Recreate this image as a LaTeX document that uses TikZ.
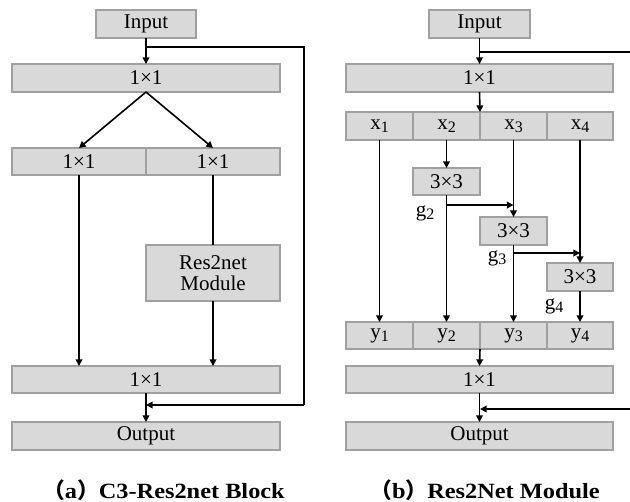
\documentclass[tikz,border=0pt]{standalone}
\usepackage{fontspec}
\setmainfont{Liberation Serif}
\newfontfamily\capfont[FakeStretch=1.12]{Liberation Serif}
\newfontfamily\cjkfont{Noto Sans CJK SC}
\usetikzlibrary{arrows.meta}
\definecolor{boxfill}{RGB}{217,217,217}
\definecolor{boxline}{RGB}{160,160,160}
% x with a lowered index, set in roman
\newcommand\idx[2]{#1\raisebox{-0.35ex}{\fontsize{12}{12}\selectfont #2}}
% box given by its left, top, right and bottom edges (in px)
\newcommand\blk[6]{%
  \node[box, minimum width={(#4-#2)*0.75pt}, minimum height={(#5-#3)*0.75pt}]
    (#1) at ({(#2+#4)/2},{(#3+#5)/2}) {#6};}
\begin{document}
\begin{tikzpicture}[x=0.75pt,y=-0.75pt,
  box/.style={draw=boxline, fill=boxfill, line width=0.8pt, inner sep=0pt, outer sep=0pt,
    font=\fontsize{15.75}{17}\selectfont, align=center},
  flow/.style={line width=1.2pt, -{Triangle[length=5pt,width=5pt]}},
  wire/.style={line width=1.2pt},
  glabel/.style={font=\fontsize{15.75}{17}\selectfont, inner sep=0pt},
  caption/.style={font=\capfont\bfseries\fontsize{16.3}{18}\selectfont, inner sep=0pt}]
\useasboundingbox (0,0) rectangle (630,501);

% ---------- (a) C3-Res2net block ----------
\blk{inA}{96}{10}{196}{38}{Input}
\blk{c1A}{12}{64}{280}{92}{1×1}
\blk{c2aA}{12}{148}{146}{175}{1×1}
\blk{c2bA}{146}{148}{280}{175}{1×1}
\blk{resA}{146}{245}{280}{301}{Res2net\\[-1pt]Module}
\blk{c3A}{12}{366}{280}{393}{1×1}
\blk{outA}{12}{422}{280}{450}{Output}

\draw[flow] (inA.south) -- (c1A.north);
\draw[flow] (c1A.south) -- (c2aA.north);
\draw[flow] (c1A.south) -- (c2bA.north);
\draw[flow] (c2aA.south) -- (c2aA.south |- c3A.north);
\draw[wire] (c2bA.south) -- (resA.north);
\draw[flow] (resA.south) -- (resA.south |- c3A.north);
\draw[flow] (c3A.south) -- (outA.north);

\coordinate (sA1) at (146,47);
\coordinate (sA2) at (304,47);
\coordinate (sA3) at (304,405);
\coordinate (sA4) at (146,405);
\draw[wire] (sA1) -- (sA2) -- (sA3);
\draw[flow] (sA3) -- (sA4);

\node[caption] (capA) at (164,490) {{\cjkfont （}a{\cjkfont ）}C3-Res2net Block};

% ---------- (b) Res2Net module ----------
\blk{inB}{429}{10}{530}{38}{Input}
\blk{c1B}{346}{64}{613}{92}{1×1}
\blk{xa}{346}{112}{413}{140}{\idx{x}{1}}
\blk{xb}{413}{112}{480}{140}{\idx{x}{2}}
\blk{xc}{480}{112}{547}{140}{\idx{x}{3}}
\blk{xd}{547}{112}{613}{140}{\idx{x}{4}}
\blk{ka}{413}{168}{480}{195}{3×3}
\blk{kb}{480}{217}{547}{245}{3×3}
\blk{kc}{547}{263}{613}{291}{3×3}
\blk{ya}{346}{322}{413}{349}{\idx{y}{1}}
\blk{yb}{413}{322}{480}{349}{\idx{y}{2}}
\blk{yc}{480}{322}{547}{349}{\idx{y}{3}}
\blk{yd}{547}{322}{613}{349}{\idx{y}{4}}
\blk{c2B}{346}{366}{613}{393}{1×1}
\blk{outB}{346}{422}{613}{450}{Output}

\coordinate (xtop) at (480,112);
\coordinate (ybot) at (480,349);
\draw[flow] (inB.south) -- (c1B.north);
\draw[flow] (c1B.south) -- (xtop);
\draw[flow] (xa.south) -- (ya.north);
\draw[flow] (xb.south) -- (ka.north);
\draw[flow] (ka.south) -- (yb.north);
\draw[flow] (xc.south) -- (kb.north);
\draw[flow] (kb.south) -- (yc.north);
\draw[flow] (xd.south) -- (kc.north);
\draw[flow] (kc.south) -- (yd.north);
\draw[flow] (ybot) -- (c2B.north);
\draw[flow] (c2B.south) -- (outB.north);

\coordinate (ga) at (446,205);
\coordinate (gb) at (513,253);
\draw[flow] (ga) -- (ga -| kb.north);
\draw[flow] (gb) -- (gb -| kc.north);

\node[glabel] (g2) at (425,213) {\idx{g}{2}};
\node[glabel] (g3) at (497,258) {\idx{g}{3}};
\node[glabel] (g4) at (554,306) {\idx{g}{4}};

\coordinate (sB1) at (630,52);
\coordinate (sB2) at (480,52);
\coordinate (sB3) at (630,409);
\coordinate (sB4) at (480,409);
\draw[wire] (sB1) -- (sB2);
\draw[flow] (sB3) -- (sB4);

\node[caption] (capB) at (485,490) {{\cjkfont （}b{\cjkfont ）}Res2Net Module};
\end{tikzpicture}
\end{document}
